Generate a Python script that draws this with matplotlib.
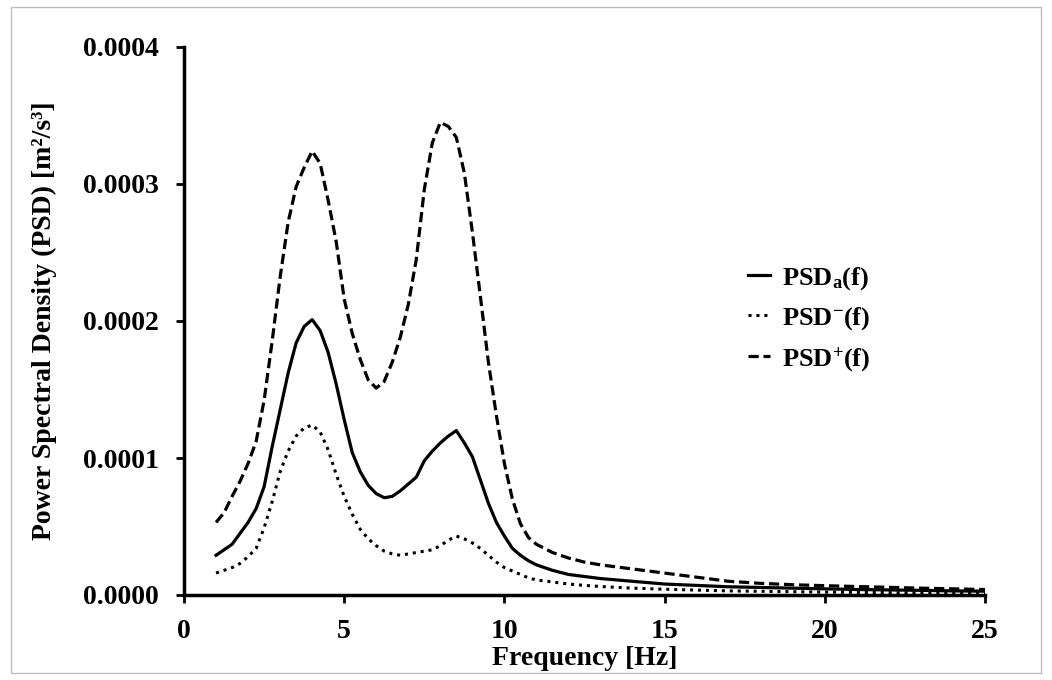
import matplotlib
matplotlib.use("Agg")
import matplotlib.pyplot as plt
from matplotlib.ticker import FormatStrFormatter, MultipleLocator
from matplotlib.patches import Rectangle
import numpy as np

plt.rcParams["font.family"] = ["Liberation Serif", "DejaVu Serif"]
plt.rcParams["font.weight"] = "bold"
plt.rcParams["mathtext.fontset"] = "custom"
plt.rcParams["mathtext.rm"] = "Liberation Serif:bold"
plt.rcParams["mathtext.it"] = "Liberation Serif:bold"
plt.rcParams["mathtext.bf"] = "Liberation Serif:bold"

# frequency [Hz]
freq = [1, 1.25, 1.5, 1.75, 2, 2.25, 2.5, 2.75, 3, 3.25, 3.5, 3.75, 4, 4.25,
        4.5, 4.75, 5, 5.25, 5.5, 5.75, 6, 6.25, 6.5, 6.75, 7, 7.25, 7.5, 7.75,
        8, 8.25, 8.5, 8.75, 9, 9.25, 9.5, 9.75, 10, 10.25, 10.5, 10.75, 11,
        11.5, 12, 12.5, 13, 14, 15, 16, 17, 18, 19, 20, 21, 22, 23, 24, 25]

# PSD values, in units of 1e-4 m2/s3
psd_a = [0.29, 0.33, 0.37, 0.45, 0.53, 0.63, 0.79, 1.08, 1.35, 1.62, 1.84,
         1.96, 2.01, 1.93, 1.77, 1.54, 1.28, 1.04, 0.90, 0.80, 0.74, 0.71,
         0.72, 0.76, 0.81, 0.86, 0.98, 1.05, 1.11, 1.16, 1.20, 1.11, 1.01,
         0.84, 0.67, 0.53, 0.43, 0.34, 0.29, 0.25, 0.22,
         0.18, 0.15, 0.135, 0.12, 0.10, 0.08, 0.07, 0.06, 0.055, 0.05, 0.045,
         0.04, 0.037, 0.034, 0.03, 0.028]
psd_minus = [0.16, 0.18, 0.20, 0.23, 0.28, 0.34, 0.49, 0.68, 0.90, 1.05,
             1.16, 1.22, 1.24, 1.19, 1.06, 0.88, 0.72, 0.59, 0.48, 0.41, 0.36,
             0.32, 0.30, 0.29, 0.30, 0.31, 0.32, 0.33, 0.36, 0.40, 0.43, 0.41,
             0.38, 0.34, 0.29, 0.24, 0.20, 0.175, 0.15, 0.125, 0.11,
             0.095, 0.08, 0.07, 0.062, 0.05, 0.042, 0.036, 0.03, 0.027, 0.024,
             0.021, 0.019, 0.017, 0.015, 0.014, 0.013]
psd_plus = [0.53, 0.60, 0.72, 0.83, 0.96, 1.12, 1.42, 1.85, 2.32, 2.72, 2.98,
            3.12, 3.24, 3.15, 2.88, 2.58, 2.16, 1.91, 1.72, 1.57, 1.51, 1.56,
            1.70, 1.88, 2.12, 2.45, 2.96, 3.30, 3.45, 3.42, 3.34, 3.08, 2.65,
            2.18, 1.70, 1.31, 0.96, 0.70, 0.52, 0.42, 0.37,
            0.31, 0.27, 0.24, 0.22, 0.19, 0.16, 0.13, 0.10, 0.085, 0.075,
            0.068, 0.062, 0.056, 0.05, 0.045, 0.04]

labels = [r"PSD$_{\mathrm{a}}$(f)", r"PSD$^{-}$(f)", r"PSD$^{+}$(f)"]

fig = plt.figure(figsize=(10.52, 6.8), dpi=100)
fig.patches.append(Rectangle((11 / 1052, 7 / 680), 1030 / 1052, 666 / 680,
                             transform=fig.transFigure, fill=False,
                             edgecolor="#bdbdbd", linewidth=1))
ax = fig.add_axes([184 / 1052, 1 - 595 / 680, 801 / 1052, 548 / 680])

scale = 1e-4
ax.plot(freq, np.array(psd_a) * scale, color="black", lw=2.3, label=labels[0])
ax.plot(freq, np.array(psd_minus) * scale, color="black", lw=2.2,
        linestyle=(0, (1, 1.6)), label=labels[1])
ax.plot(freq, np.array(psd_plus) * scale, color="black", lw=2.3,
        linestyle=(0, (3.2, 1.5)), label=labels[2])

ax.set_xlim(0, 25)
ax.set_ylim(0, 0.0004)
ax.xaxis.set_major_locator(MultipleLocator(5))
ax.yaxis.set_major_locator(MultipleLocator(0.0001))
ax.yaxis.set_major_formatter(FormatStrFormatter("%.4f"))

for side in ["top", "right"]:
    ax.spines[side].set_visible(False)
for side in ["left", "bottom"]:
    ax.spines[side].set_linewidth(2.5)
ax.tick_params(direction="out", length=6, width=2, labelsize=20)
ax.tick_params(axis="x", pad=11)
ax.tick_params(axis="y", pad=12)

ax.set_xlabel("Frequency [Hz]", fontsize=20, fontweight="bold", labelpad=2)
ax.set_ylabel("Power Spectral Density (PSD) [m²/s³]", fontsize=20,
              fontweight="bold")
ax.yaxis.set_label_coords(-0.158, 0.5)

ax.legend(loc="upper left", bbox_to_anchor=(724 / 1052, 1 - 241 / 680),
          bbox_transform=fig.transFigure, frameon=False, fontsize=19,
          handlelength=0.85, handletextpad=0.45, labelspacing=0.5)

fig.savefig("out.png", dpi=100)
